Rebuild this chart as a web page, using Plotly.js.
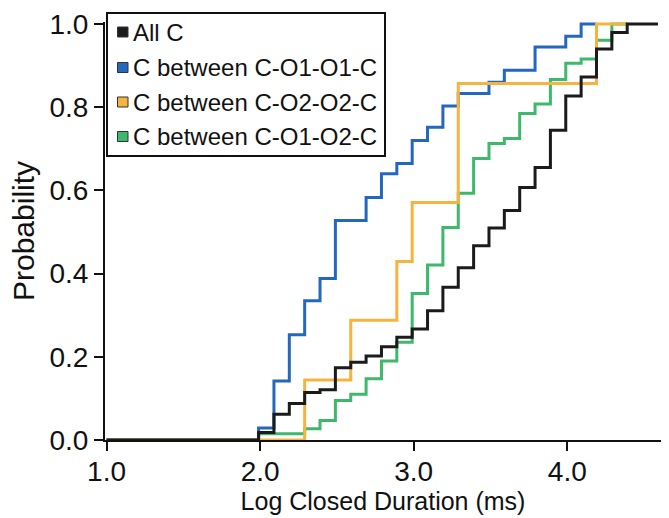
<!DOCTYPE html>
<html>
<head>
<meta charset="utf-8">
<script src="https://cdn.plot.ly/plotly-3.0.1.min.js"></script>
<style>html,body{margin:0;padding:0;background:#fff;}#chart{width:669px;height:518px;}</style>
</head>
<body>
<div id="chart"></div>
<script>
// Series names and colours (legend order)
const seriesNames = ['All C', 'C between C-O1-O1-C', 'C between C-O2-O2-C', 'C between C-O1-O2-C'];
const seriesColors = ['#1b1b1b', '#2467be', '#f4b43e', '#3eb86b'];

// All C (black) cumulative step values
const xAll = [1.0, 1.99, 2.09, 2.19, 2.29, 2.39, 2.49, 2.59, 2.69, 2.79, 2.89, 2.99, 3.09, 3.19, 3.29, 3.39, 3.49, 3.59, 3.69, 3.79, 3.89, 3.99, 4.09, 4.19, 4.29, 4.39, 4.59];
const yAll = [0, 0.018, 0.062, 0.088, 0.114, 0.121, 0.174, 0.187, 0.202, 0.224, 0.247, 0.267, 0.311, 0.367, 0.414, 0.467, 0.51, 0.552, 0.607, 0.655, 0.745, 0.827, 0.873, 0.94, 0.98, 1.0, 1.0];

// C between C-O1-O1-C (blue)
const xO1O1 = [1.0, 1.99, 2.09, 2.19, 2.29, 2.39, 2.49, 2.69, 2.79, 2.89, 2.99, 3.09, 3.19, 3.29, 3.49, 3.59, 3.79, 3.99, 4.09, 4.19];
const yO1O1 = [0, 0.029, 0.142, 0.253, 0.335, 0.388, 0.528, 0.583, 0.64, 0.665, 0.72, 0.752, 0.803, 0.833, 0.86, 0.889, 0.945, 0.971, 1.0, 1.0];

// C between C-O2-O2-C (orange)
const xO2O2 = [1.0, 2.29, 2.59, 2.89, 2.99, 3.29, 4.19, 4.39];
const yO2O2 = [0, 0.144, 0.288, 0.429, 0.571, 0.857, 1.0, 1.0];

// C between C-O1-O2-C (green)
const xO1O2 = [1.0, 1.99, 2.29, 2.39, 2.49, 2.59, 2.69, 2.79, 2.89, 2.99, 3.09, 3.19, 3.29, 3.39, 3.49, 3.59, 3.69, 3.79, 3.89, 3.99, 4.09, 4.19, 4.29, 4.39];
const yO1O2 = [0, 0.015, 0.027, 0.047, 0.095, 0.11, 0.147, 0.19, 0.235, 0.352, 0.421, 0.511, 0.593, 0.677, 0.713, 0.725, 0.785, 0.808, 0.867, 0.906, 0.916, 0.961, 1.0, 1.0];

// Axis ticks
const xTicks = [1.0, 2.0, 3.0, 4.0];
const yTicks = [0.0, 0.2, 0.4, 0.6, 0.8, 1.0];

const xs = [xAll, xO1O1, xO2O2, xO1O2];
const ys = [yAll, yO1O1, yO2O2, yO1O2];
const drawOrder = [3, 1, 2, 0]; // green, blue, orange, black on top

const font = 'Liberation Sans, Arial, Helvetica, sans-serif';

const traces = drawOrder.map(i => ({
  type: 'scatter', mode: 'lines', name: seriesNames[i],
  x: xs[i], y: ys[i],
  line: {shape: 'hv', color: seriesColors[i], width: 3},
  showlegend: false, hoverinfo: 'skip'
}));

// Manual legend (box, swatches, labels) in paper coordinates
const L = 105, T = 22, W = 556, H = 418;
const px = v => (v - L) / W;
const py = v => (T + H - v) / H;
const rowY = [32, 67.5, 102, 136.5];
const shapes = [{
  type: 'rect', xref: 'paper', yref: 'paper',
  x0: px(107), x1: px(385), y0: py(156), y1: py(13),
  line: {color: '#111', width: 2}, fillcolor: 'rgba(0,0,0,0)'
}];
const annotations = [];
seriesNames.forEach((n, i) => {
  shapes.push({
    type: 'rect', xref: 'paper', yref: 'paper',
    x0: px(117.5), x1: px(128), y0: py(rowY[i] + 5), y1: py(rowY[i] - 5),
    line: {color: '#333', width: 1}, fillcolor: seriesColors[i]
  });
  annotations.push({
    xref: 'paper', yref: 'paper', x: px(131), y: py(rowY[i]),
    xanchor: 'left', yanchor: 'middle', showarrow: false,
    text: n, font: {family: font, size: 24, color: '#111'}
  });
});

const layout = {
  width: 669, height: 518,
  margin: {l: L, r: 669 - L - W, t: T, b: 518 - T - H},
  paper_bgcolor: '#fff', plot_bgcolor: '#fff',
  font: {family: font, color: '#111'},
  showlegend: false,
  xaxis: {
    range: [0.99, 4.61], tickvals: xTicks, tickformat: '.1f',
    ticks: 'outside', ticklen: 9, tickwidth: 2, tickcolor: '#111',
    ticklabelstandoff: -4,
    showline: true, linewidth: 2, linecolor: '#111',
    showgrid: false, zeroline: false,
    tickfont: {family: font, size: 28, color: '#111'},
    title: {text: 'Log Closed Duration (ms)', font: {family: font, size: 25, color: '#111'}, standoff: 0}
  },
  yaxis: {
    range: [0, 1.005], tickvals: yTicks, tickformat: '.1f',
    ticks: 'outside', ticklen: 9, tickwidth: 2, tickcolor: '#111',
    showline: true, linewidth: 2, linecolor: '#111',
    showgrid: false, zeroline: false,
    tickfont: {family: font, size: 28, color: '#111'},
    title: {text: 'Probability', font: {family: font, size: 30, color: '#111'}, standoff: 6}
  },
  shapes: shapes,
  annotations: annotations
};

Plotly.newPlot('chart', traces, layout, {displayModeBar: false, staticPlot: true});
</script>
</body>
</html>
